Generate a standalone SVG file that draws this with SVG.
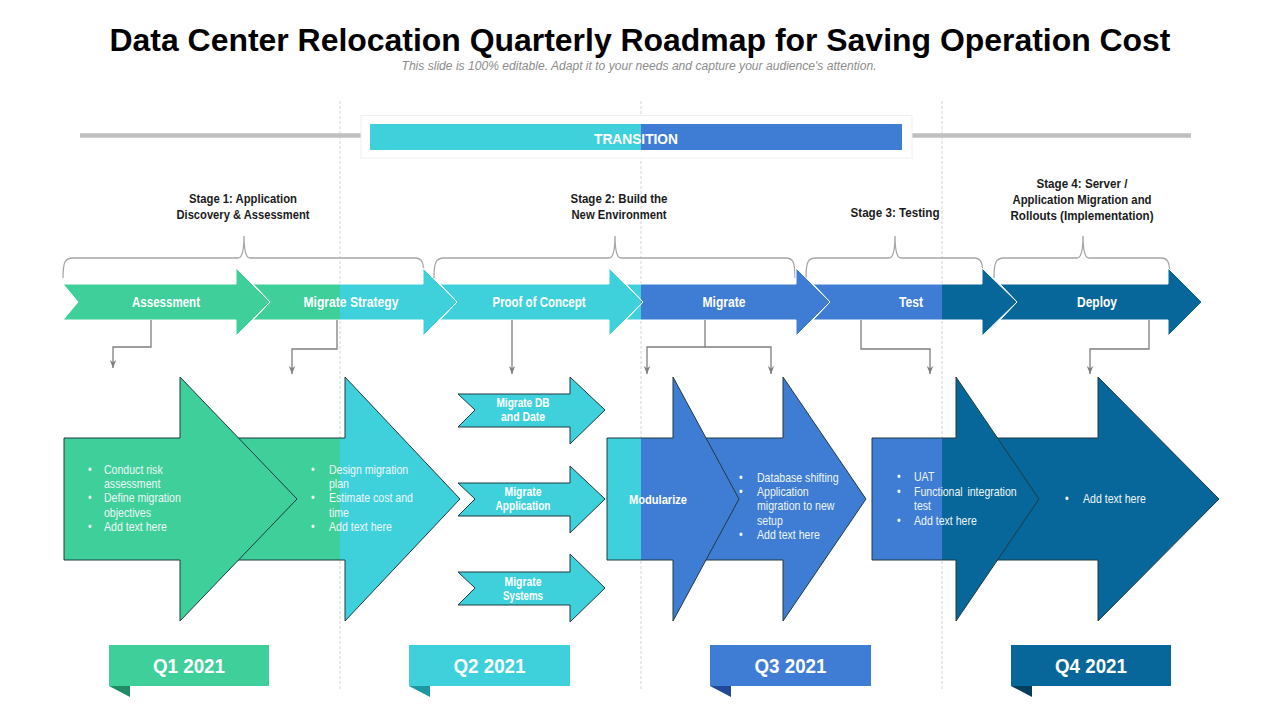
<svg xmlns="http://www.w3.org/2000/svg" width="1280" height="720" viewBox="0 0 1280 720">
<style>
.f{font-family:"Liberation Sans",Arial,sans-serif}
.title{font-weight:bold;font-size:32px;fill:#000}
.sub{font-style:italic;font-size:12px;fill:#8c8c8c}
.stage{font-weight:bold;font-size:13px;fill:#1a1a1a}
.chev{fill:url(#cols);stroke:#fff;stroke-width:1}
.chl{font-weight:bold;font-size:14px;fill:#fff}
.big{fill:url(#cols);stroke:#1f3a40;stroke-width:1}
.sml{fill:url(#cols);stroke:#1f3a40;stroke-width:1}
.sl{font-weight:bold;font-size:12px;fill:#fff}
.body{font-size:12px;fill:#eef6f6}
.conn{fill:none;stroke:#7f7f7f;stroke-width:1.3}
.brace{fill:none;stroke:#a6a6a6;stroke-width:1.3}
.vd{stroke:#d4d4d4;stroke-width:1;stroke-dasharray:3 2}
.q{font-weight:bold;font-size:21px;fill:#fff}
</style>
<defs>
<linearGradient id="cols" gradientUnits="userSpaceOnUse" x1="0" y1="0" x2="1280" y2="0">
<stop offset="0" stop-color="#3ECF9B"/><stop offset="0.265625" stop-color="#3ECF9B"/>
<stop offset="0.265625" stop-color="#3ED1DC"/><stop offset="0.500781" stop-color="#3ED1DC"/>
<stop offset="0.500781" stop-color="#3F7CD4"/><stop offset="0.735938" stop-color="#3F7CD4"/>
<stop offset="0.735938" stop-color="#08679A"/><stop offset="1" stop-color="#08679A"/>
</linearGradient>
<marker id="ah" viewBox="0 0 10 10" refX="10" refY="5" markerWidth="8" markerHeight="8" orient="auto" markerUnits="userSpaceOnUse">
<path d="M0,1 L10,5 L0,9 L3,5 z" fill="#7f7f7f"/>
</marker>
</defs>
<rect width="1280" height="720" fill="#fff"/>

<g id="grid">
<line class="vd" x1="340" y1="101" x2="340" y2="690"/>
<line class="vd" x1="641" y1="101" x2="641" y2="690"/>
<line class="vd" x1="942" y1="101" x2="942" y2="690"/>
</g>

<g id="header" class="f">
<text class="title" x="640" y="51" text-anchor="middle" textLength="1061" lengthAdjust="spacingAndGlyphs">Data Center Relocation Quarterly Roadmap for Saving Operation Cost</text>
<text class="sub" x="639" y="70" text-anchor="middle" textLength="475" lengthAdjust="spacingAndGlyphs">This slide is 100% editable. Adapt it to your needs and capture your audience's attention.</text>
</g>

<g id="transition">
<line x1="80" y1="135.5" x2="1191" y2="135.5" stroke="#bfbfbf" stroke-width="4.5"/>
<rect x="361" y="115.5" width="551" height="42.5" fill="#fff" stroke="#eef0f0" stroke-width="1"/>
<rect x="370" y="124" width="532" height="26" fill="url(#cols)"/>
<text class="f" x="636" y="143.5" text-anchor="middle" font-weight="bold" font-size="15" fill="#fff" textLength="84" lengthAdjust="spacingAndGlyphs">TRANSITION</text>
</g>

<g id="stages" class="f">
<text class="stage" x="243" y="203" text-anchor="middle" textLength="108" lengthAdjust="spacingAndGlyphs">Stage 1: Application</text>
<text class="stage" x="243" y="219" text-anchor="middle" textLength="133" lengthAdjust="spacingAndGlyphs">Discovery &amp; Assessment</text>
<text class="stage" x="619" y="203" text-anchor="middle" textLength="97" lengthAdjust="spacingAndGlyphs">Stage 2: Build the</text>
<text class="stage" x="619" y="219" text-anchor="middle" textLength="95" lengthAdjust="spacingAndGlyphs">New Environment</text>
<text class="stage" x="895" y="217" text-anchor="middle" textLength="89" lengthAdjust="spacingAndGlyphs">Stage 3: Testing</text>
<text class="stage" x="1082" y="188" text-anchor="middle" textLength="91" lengthAdjust="spacingAndGlyphs">Stage 4: Server /</text>
<text class="stage" x="1082" y="204" text-anchor="middle" textLength="139" lengthAdjust="spacingAndGlyphs">Application Migration and</text>
<text class="stage" x="1082" y="220" text-anchor="middle" textLength="143" lengthAdjust="spacingAndGlyphs">Rollouts (Implementation)</text>
</g>

<g id="braces">
<path class="brace" d="M63,278 C63,262 65,258 73,258 L238,258 C242,258 244,252 244,236 C244,252 246,258 250,258 L415,258 C422,258 424,262 424,278"/>
<path class="brace" d="M434,278 C434,262 436,258 444,258 L609,258 C613,258 615,252 615,236 C615,252 617,258 621,258 L786,258 C793,258 795,262 795,278"/>
<path class="brace" d="M806,278 C806,262 808,258 816,258 L889,258 C893,258 895,252 895,236 C895,252 897,258 901,258 L974,258 C981,258 983,262 983,278"/>
<path class="brace" d="M994,278 C994,262 996,258 1004,258 L1077,258 C1081,258 1083,252 1083,236 C1083,252 1085,258 1089,258 L1161,258 C1168,258 1170,262 1170,278"/>
</g>

<g id="chev-assessment">
<polygon class="chev" points="63,284 236,284 236,268 270,302 236,336 236,320 63,320 78,302"/>
<text class="f chl" x="166" y="307" text-anchor="middle" textLength="68" lengthAdjust="spacingAndGlyphs">Assessment</text>
</g>
<g id="chev-migrate-strategy">
<polygon class="chev" points="253,284 423,284 423,268 457,302 423,336 423,320 253,320 270,302"/>
<text class="f chl" x="351" y="307" text-anchor="middle" textLength="95" lengthAdjust="spacingAndGlyphs">Migrate Strategy</text>
</g>
<g id="chev-poc">
<polygon class="chev" points="440,284 609,284 609,268 643,302 609,336 609,320 440,320 457,302"/>
<text class="f chl" x="539" y="307" text-anchor="middle" textLength="93" lengthAdjust="spacingAndGlyphs">Proof of Concept</text>
</g>
<g id="chev-migrate">
<polygon class="chev" points="626,284 796,284 796,268 830,302 796,336 796,320 626,320 643,302"/>
<text class="f chl" x="724" y="307" text-anchor="middle" textLength="43" lengthAdjust="spacingAndGlyphs">Migrate</text>
</g>
<g id="chev-test">
<polygon class="chev" points="813,284 982,284 982,268 1017,302 982,336 982,320 813,320 830,302"/>
<text class="f chl" x="911" y="307" text-anchor="middle" textLength="24" lengthAdjust="spacingAndGlyphs">Test</text>
</g>
<g id="chev-deploy">
<polygon class="chev" points="1000,284 1168,284 1168,268 1202,302 1168,336 1168,320 1000,320 1017,302"/>
<text class="f chl" x="1097" y="307" text-anchor="middle" textLength="40" lengthAdjust="spacingAndGlyphs">Deploy</text>
</g>

<g id="connectors">
<path class="conn" marker-end="url(#ah)" d="M151,320 V347 H113 V368"/>
<path class="conn" marker-end="url(#ah)" d="M337,320 V349 H292 V374"/>
<path class="conn" marker-end="url(#ah)" d="M512,320 V374"/>
<path class="conn" marker-end="url(#ah)" d="M705,347 H647 V374"/>
<path class="conn" marker-end="url(#ah)" d="M705,320 V347 H771 V374"/>
<path class="conn" marker-end="url(#ah)" d="M861,320 V349 H930 V374"/>
<path class="conn" marker-end="url(#ah)" d="M1149,320 V349 H1090 V374"/>
</g>

<g id="q2-design">
<polygon class="big" points="180,438 345,438 345,377 460,499 345,621 345,560 180,560"/>
<g class="f body">
<g transform="translate(311 0) scale(0.88 1)"><text y="474">•</text><text y="502">•</text><text y="531">•</text></g>
<g transform="translate(329 0) scale(0.88 1)">
<text y="474">Design migration</text>
<text y="488">plan</text>
<text y="502">Estimate cost and</text>
<text y="517">time</text>
<text y="531">Add text here</text>
</g>
</g>
</g>
<g id="q1-assess">
<polygon class="big" points="64,438 180,438 180,377 297,499 180,621 180,560 64,560"/>
<g class="f body">
<g transform="translate(88 0) scale(0.88 1)"><text y="474">•</text><text y="502">•</text><text y="531">•</text></g>
<g transform="translate(104 0) scale(0.88 1)">
<text y="474">Conduct risk</text>
<text y="488">assessment</text>
<text y="502">Define migration</text>
<text y="517">objectives</text>
<text y="531">Add text here</text>
</g>
</g>
</g>

<g id="migrate-db">
<polygon class="sml" points="458,394 570,394 570,377 605,410 570,444 570,427 458,427 475,410"/>
<text class="f sl" x="523" y="407" text-anchor="middle" textLength="53" lengthAdjust="spacingAndGlyphs">Migrate DB</text>
<text class="f sl" x="523" y="421" text-anchor="middle" textLength="44" lengthAdjust="spacingAndGlyphs">and Date</text>
</g>
<g id="migrate-app">
<polygon class="sml" points="458,483 570,483 570,466 605,499 570,533 570,516 458,516 475,499"/>
<text class="f sl" x="523" y="496" text-anchor="middle" textLength="37" lengthAdjust="spacingAndGlyphs">Migrate</text>
<text class="f sl" x="523" y="510" text-anchor="middle" textLength="55" lengthAdjust="spacingAndGlyphs">Application</text>
</g>
<g id="migrate-sys">
<polygon class="sml" points="458,572 570,572 570,554 605,588 570,622 570,605 458,605 475,588"/>
<text class="f sl" x="523" y="586" text-anchor="middle" textLength="37" lengthAdjust="spacingAndGlyphs">Migrate</text>
<text class="f sl" x="523" y="600" text-anchor="middle" textLength="40" lengthAdjust="spacingAndGlyphs">Systems</text>
</g>

<g id="q3-db">
<polygon class="big" points="673,438 783,438 783,377 866,499 783,621 783,560 673,560"/>
<g class="f body">
<g transform="translate(739 0) scale(0.88 1)"><text y="482">•</text><text y="496">•</text><text y="539">•</text></g>
<g transform="translate(757 0) scale(0.88 1)">
<text y="482">Database shifting</text>
<text y="496">Application</text>
<text y="510">migration to new</text>
<text y="525">setup</text>
<text y="539">Add text here</text>
</g>
</g>
</g>
<g id="q3-modularize">
<polygon class="big" points="607,438 673,438 673,377 739,499 673,621 673,560 607,560"/>
<text class="f" x="658" y="504" text-anchor="middle" font-weight="bold" font-size="13" fill="#fff" textLength="58" lengthAdjust="spacingAndGlyphs">Modularize</text>
</g>

<g id="q4-deploy">
<polygon class="big" points="956,438 1098,438 1098,377 1219,499 1098,621 1098,560 956,560"/>
<g class="f body">
<g transform="translate(1065 0) scale(0.88 1)"><text y="503">•</text></g>
<g transform="translate(1083 0) scale(0.88 1)"><text y="503">Add text here</text></g>
</g>
</g>
<g id="q4-test">
<polygon class="big" points="872,438 956,438 956,377 1039,499 956,621 956,560 872,560"/>
<g class="f body">
<g transform="translate(897 0) scale(0.88 1)"><text y="481">•</text><text y="496">•</text><text y="525">•</text></g>
<g transform="translate(914 0) scale(0.88 1)">
<text y="481">UAT</text>
<text y="496" word-spacing="2">Functional integration</text>
<text y="510">test</text>
<text y="525">Add text here</text>
</g>
</g>
</g>

<g id="q1">
<rect x="109" y="645" width="160" height="41" fill="#3ECF9B"/>
<polygon points="109,686 130,686 130,697" fill="#1F8C66"/>
<text class="f q" x="189" y="673" text-anchor="middle" textLength="72" lengthAdjust="spacingAndGlyphs">Q1 2021</text>
</g>
<g id="q2">
<rect x="409" y="645" width="161" height="41" fill="#3ED1DC"/>
<polygon points="409,686 430,686 430,697" fill="#1C98A2"/>
<text class="f q" x="489.5" y="673" text-anchor="middle" textLength="72" lengthAdjust="spacingAndGlyphs">Q2 2021</text>
</g>
<g id="q3">
<rect x="710" y="645" width="161" height="41" fill="#3F7CD4"/>
<polygon points="710,686 731,686 731,697" fill="#22489A"/>
<text class="f q" x="790.5" y="673" text-anchor="middle" textLength="72" lengthAdjust="spacingAndGlyphs">Q3 2021</text>
</g>
<g id="q4">
<rect x="1011" y="645" width="160" height="41" fill="#08679A"/>
<polygon points="1011,686 1032,686 1032,697" fill="#063F5E"/>
<text class="f q" x="1091" y="673" text-anchor="middle" textLength="72" lengthAdjust="spacingAndGlyphs">Q4 2021</text>
</g>
</svg>
